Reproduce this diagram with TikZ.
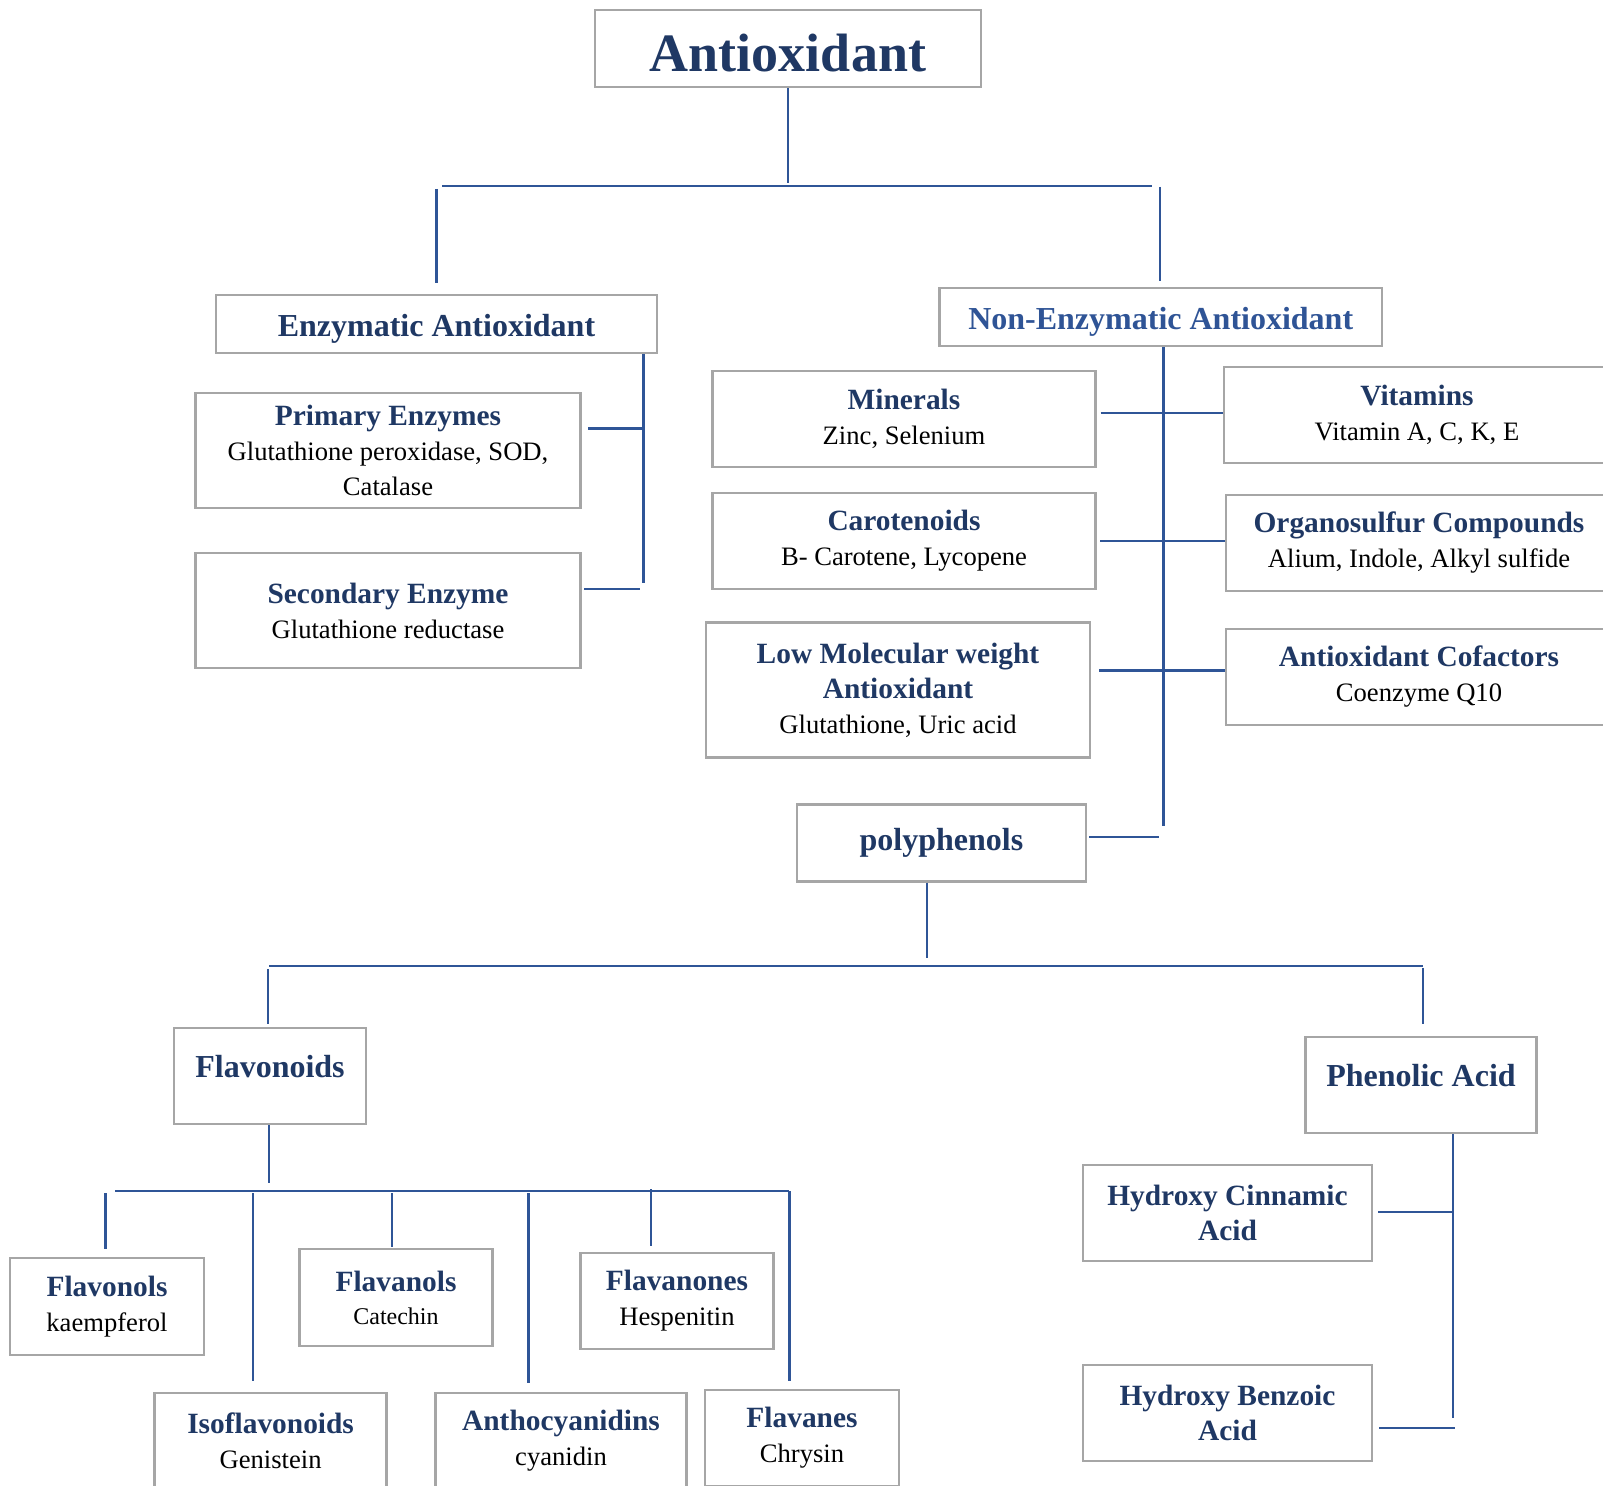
\documentclass[tikz,border=0pt]{standalone}
\usepackage{fontspec}
\setmainfont{Liberation Serif}
\usepackage{tikz}
\usetikzlibrary{arrows}

\definecolor{navy}{RGB}{31,56,100}
\definecolor{midblue}{RGB}{47,84,150}
\definecolor{linkblue}{RGB}{47,85,151}
\definecolor{boxgray}{RGB}{166,166,166}

\newcommand{\hd}[1]{{\fontsize{14.7}{17}\selectfont\bfseries\color{navy}#1}}
\newcommand{\bighd}[1]{{\fontsize{16}{19}\selectfont\bfseries\color{navy}#1}}

\begin{document}
\begin{tikzpicture}[x=0.5pt,y=-0.5pt,thick]
		\tikzstyle{box}=[draw=boxgray,line width=1.4pt,align=center,inner sep=0pt,font=\fontsize{13.3}{17.5}\selectfont]
		\tikzstyle{link}=[draw=linkblue,line width=1.15pt]
		
		\path[use as bounding box,fill=white] (0,0) rectangle (1603,1486);
		
		\node[box,minimum width=193pt,minimum height=38.5pt,text height=23.5pt,text=navy,font=\fontsize{27}{30}\selectfont\bfseries] (anti) at (788,48.5) {Antioxidant};
		
		\node[box,minimum width=220.5pt,minimum height=29pt,text height=16pt] (enz) at (436.5,324) {\bighd{Enzymatic Antioxidant}};
		\node[box,minimum width=221.25pt,minimum height=29pt,text height=16pt] (nonenz) at (1160.75,317) {\bighd{\color{midblue}Non-Enzymatic Antioxidant}};
		
		\node[box,minimum width=192.5pt,minimum height=57.5pt] (primary) at (388,450.5) {\hd{Primary Enzymes}\\Glutathione peroxidase, SOD,\\Catalase};
		\node[box,minimum width=192.5pt,minimum height=57.5pt] (secondary) at (388,610.5) {\hd{Secondary Enzyme}\\Glutathione reductase};
		
		\node[box,minimum width=191.75pt,minimum height=48pt] (minerals) at (904,419) {\hd{Minerals}\\Zinc, Selenium};
		\node[box,minimum width=193pt,minimum height=48pt] (vitamins) at (1417,415) {\hd{Vitamins}\\Vitamin A, C, K, E};
		\node[box,minimum width=191.75pt,minimum height=48pt] (carot) at (904,541) {\hd{Carotenoids}\\B- Carotene, Lycopene};
		\node[box,minimum width=193pt,minimum height=48pt] (organo) at (1419,543) {\hd{Organosulfur Compounds}\\Alium, Indole, Alkyl sulfide};
		\node[box,minimum width=192pt,minimum height=67.25pt] (lowmol) at (898,690) {\hd{Low Molecular weight}\\\hd{Antioxidant}\\Glutathione, Uric acid};
		\node[box,minimum width=193pt,minimum height=48pt] (cofac) at (1419,677) {\hd{Antioxidant Cofactors}\\Coenzyme Q10};
		
		\node[box,minimum width=144.5pt,minimum height=38.25pt] (poly) at (941.5,843) {\bighd{polyphenols}};
		
		\node[box,minimum width=96pt,minimum height=48pt,text depth=10pt] (flavonoids) at (270,1076) {\bighd{Flavonoids}};
		\node[box,minimum width=115.5pt,minimum height=48pt,text depth=10pt] (phenolic) at (1421,1085) {\bighd{Phenolic Acid}};
		
		\node[box,minimum width=144.5pt,minimum height=48pt] (cinnamic) at (1227.5,1213) {\hd{Hydroxy Cinnamic}\\\hd{Acid}};
		\node[box,minimum width=144.5pt,minimum height=48pt] (benzoic) at (1227.5,1413) {\hd{Hydroxy Benzoic}\\\hd{Acid}};
		
		\node[box,minimum width=97pt,minimum height=48.5pt] (flavonols) at (107,1306.5) {\hd{Flavonols}\\kaempferol};
		\node[box,minimum width=96.75pt,minimum height=48.5pt,font=\fontsize{12}{16.5}\selectfont] (flavanols) at (396,1297.5) {\hd{Flavanols}\\Catechin};
		\node[box,minimum width=96.75pt,minimum height=48pt] (flavanones) at (677,1301) {\hd{Flavanones}\\Hespenitin};
		\node[box,minimum width=116pt,minimum height=48pt] (isoflav) at (270.6,1441) {\hd{Isoflavonoids}\\Genistein};
		\node[box,minimum width=125.5pt,minimum height=48pt] (antho) at (561,1441) {\hd{Anthocyanidins}\\cyanidin};
		\node[box,minimum width=97pt,minimum height=48pt] (flavanes) at (802,1438) {\hd{Flavanes}\\Chrysin};
		
		% top split
		\coordinate (t_0) at (788,183);
		\coordinate (t_l) at (442,186);
		\coordinate (t_r) at (1152,186);
		\coordinate (s_l) at (436.5,189);
		\coordinate (s_r) at (1160,187);
		\draw[link] (anti.south) -- (t_0);
		\draw[link] (t_l) -- (t_r);
		\draw[link,shorten >=5.5pt] (s_l) -- (s_l |- enz.north);
		\draw[link,shorten >=3pt] (s_r) -- (s_r |- nonenz.north);
		
		% enzymatic
		\coordinate (e_0) at (643.5,583);
		\coordinate (e_1) at (643.5,428.5);
		\coordinate (e_2) at (640,589);
		\draw[link] (enz.south -| e_0) -- (e_0);
		\draw[link] ([xshift=3.25pt]primary.east |- e_1) -- (e_1);
		\draw[link] ([xshift=1.25pt]secondary.east |- e_2) -- (e_2);
		
		% non-enzymatic
		\coordinate (n_0) at (1163.5,826);
		\coordinate (m_0) at (1163.5,413);
		\coordinate (c_0) at (1163.5,541);
		\coordinate (l_0) at (1163.5,670.5);
		\coordinate (p_r) at (1159,837);
		\draw[link] (nonenz.south -| n_0) -- (n_0);
		\draw[link] ([xshift=1.75pt]minerals.east |- m_0) -- (vitamins.west |- m_0);
		\draw[link] ([xshift=1.5pt]carot.east |- c_0) -- (organo.west |- c_0);
		\draw[link] ([xshift=4pt]lowmol.east |- l_0) -- (cofac.west |- l_0);
		\draw[link] ([xshift=1pt]poly.east |- p_r) -- (p_r);
		
		% polyphenols
		\coordinate (p_0) at (927,958);
		\coordinate (q_l) at (269,966);
		\coordinate (q_r) at (1423,966);
		\coordinate (q_1) at (268,969);
		\coordinate (q_2) at (1423,968);
		\draw[link] (poly.south -| p_0) -- (p_0);
		\draw[link] (q_l) -- (q_r);
		\draw[link,shorten >=1.5pt] (q_1) -- (q_1 |- flavonoids.north);
		\draw[link,shorten >=6pt] (q_2) -- (q_2 |- phenolic.north);
		
		% flavonoids
		\coordinate (f_0) at (269,1183);
		\coordinate (f_l) at (115,1191);
		\coordinate (f_r) at (789,1191);
		\coordinate (g_1) at (105.6,1193);
		\coordinate (g_2) at (252.7,1193);
		\coordinate (g_3) at (392,1193);
		\coordinate (g_4) at (528.6,1193);
		\coordinate (g_5) at (651,1189);
		\coordinate (g_6) at (789.4,1191);
		\draw[link] (flavonoids.south -| f_0) -- (f_0);
		\draw[link] (f_l) -- (f_r);
		\draw[link,shorten >=4pt] (g_1) -- (g_1 |- flavonols.north);
		\draw[link,shorten >=5.5pt] (g_2) -- (g_2 |- isoflav.north);
		\draw[link,shorten >=0.5pt] (g_3) -- (g_3 |- flavanols.north);
		\draw[link,shorten >=4.5pt] (g_4) -- (g_4 |- antho.north);
		\draw[link,shorten >=3pt] (g_5) -- (g_5 |- flavanones.north);
		\draw[link,shorten >=4pt] (g_6) -- (g_6 |- flavanes.north);
		
		% phenolic acid
		\coordinate (h_0) at (1453,1418);
		\coordinate (h_1) at (1453,1212);
		\coordinate (h_2) at (1455,1428);
		\draw[link] (phenolic.south -| h_0) -- (h_0);
		\draw[link] ([xshift=2.5pt]cinnamic.east |- h_1) -- (h_1);
		\draw[link] ([xshift=3pt]benzoic.east |- h_2) -- (h_2);
		
	\end{tikzpicture}
\end{document}
